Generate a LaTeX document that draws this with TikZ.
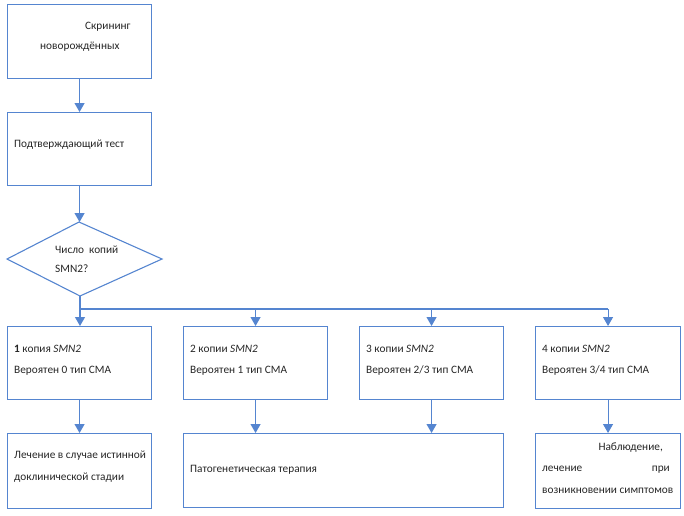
\documentclass[tikz,border=0pt]{standalone}
\usepackage{fontspec}
\setmainfont{Carlito}
\usetikzlibrary{arrows.meta,shapes.geometric}
\definecolor{obl}{HTML}{5585D0}
\definecolor{txt}{HTML}{262626}
\begin{document}
\begin{tikzpicture}[x=1pt,y=-1pt,
  box/.style={draw=obl,line width=1.1pt,rectangle,inner sep=0pt,anchor=north west},
  lbl/.style={anchor=base west,inner sep=0pt,text=txt,font=\fontsize{11.3}{13}\selectfont},
  arr/.style={draw=obl,line width=1.1pt,-{Triangle[width=10pt,length=9pt]}},
  ln/.style={draw=obl,line width=1.1pt}]
\useasboundingbox (0,0) rectangle (684,515);
% boxes
\node[box,minimum width=144pt,minimum height=74pt] (scr) at (7,4) {};
\node[box,minimum width=144pt,minimum height=73pt] (conf) at (7,112) {};
\coordinate (dtop) at (79,222);
\coordinate (dright) at (162,259);
\coordinate (dbot) at (80,296);
\coordinate (dleft) at (7,259);
\draw[ln] (dtop) -- (dright) -- (dbot) -- (dleft) -- cycle;
\node[box,minimum width=144pt,minimum height=73pt] (b1) at (7,326) {};
\node[box,minimum width=144pt,minimum height=73pt] (b2) at (183,326) {};
\node[box,minimum width=144pt,minimum height=73pt] (b3) at (359,326) {};
\node[box,minimum width=145pt,minimum height=73pt] (b4) at (535,326) {};
\node[box,minimum width=144pt,minimum height=75pt] (r1) at (7,433) {};
\node[box,minimum width=320pt,minimum height=74pt] (r2) at (183,433) {};
\node[box,minimum width=145pt,minimum height=75pt] (r4) at (535,433) {};
% texts
\node[lbl] (t1a) at (85,29) {Скрининг};
\node[lbl] (t1b) at (40,49) {новорождённых};
\node[lbl] (t2) at (14,147) {Подтверждающий тест};
\node[lbl] (t3a) at (55,253) {Число\ \ копий};
\node[lbl] (t3b) at (55,272) {SMN2?};
\node[lbl] (t4a) at (14,352) {\textbf{1} копия \textit{SMN2}};
\node[lbl] (t4b) at (14,373) {Вероятен 0 тип СМА};
\node[lbl] (t5a) at (190,352) {2 копии \textit{SMN2}};
\node[lbl] (t5b) at (190,373) {Вероятен 1 тип СМА};
\node[lbl] (t6a) at (366,352) {3 копии \textit{SMN2}};
\node[lbl] (t6b) at (366,373) {Вероятен 2/3 тип СМА};
\node[lbl] (t7a) at (542,352) {4 копии \textit{SMN2}};
\node[lbl] (t7b) at (542,373) {Вероятен 3/4 тип СМА};
\node[lbl] (t8a) at (14,458) {Лечение в случае истинной};
\node[lbl] (t8b) at (14,480) {доклинической стадии};
\node[lbl] (t9) at (190,472) {Патогенетическая терапия};
\node[lbl,anchor=base east] (t10a) at (663,450) {Наблюдение,};
\node[lbl] (t10b) at (542,471) {лечение};
\node[lbl,anchor=base east] (t10c) at (670,471) {при};
\node[lbl] (t10d) at (542,493) {возникновении симптомов};
% connectors
\coordinate (bus) at (80,309);
\draw[arr] (scr.south) -- (conf.north);
\draw[arr] (conf.south) -- (conf.south |- dtop);
\draw[ln] (dbot) -- (bus) -- (b4.north |- bus);
\draw[arr] (bus) -- (bus |- b1.north);
\draw[arr] (b2.north |- bus) -- (b2.north);
\draw[arr] (b3.north |- bus) -- (b3.north);
\draw[arr] (b4.north |- bus) -- (b4.north);
\draw[arr] (b1.south) -- (r1.north);
\draw[arr] (b2.south) -- (b2.south |- r2.north);
\draw[arr] (b3.south) -- (b3.south |- r2.north);
\draw[arr] (b4.south) -- (r4.north);
\end{tikzpicture}
\end{document}
